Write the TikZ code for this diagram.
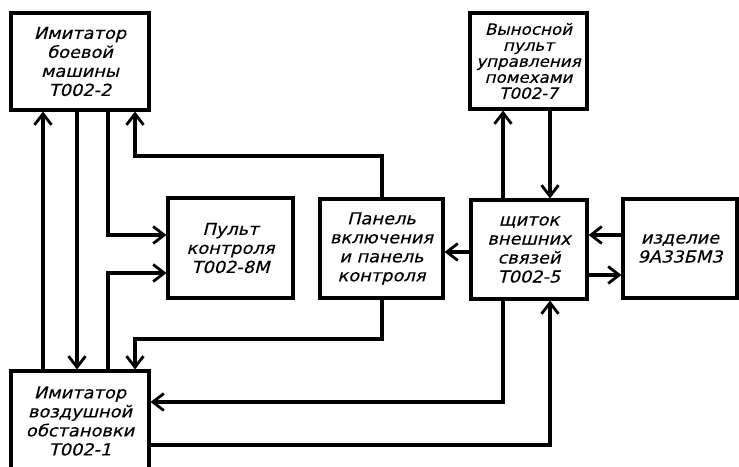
\documentclass[tikz,border=0pt]{standalone}
\usepackage{fontspec}
\newfontfamily\df[FakeStretch=1.08,FakeBold=0.3,FakeSlant=0.25]{DejaVu Sans}
\usetikzlibrary{arrows.meta}
\tikzset{
  blk/.style={draw, line width=3.1pt, rectangle, inner sep=0pt, align=center,
    font=\df\fontsize{16.5}{19}\selectfont},
  con/.style={line width=3.1pt},
  arr/.style={con, -{Straight Barb[length=11pt,width=17pt,line width=2.8pt]}}
}
\begin{document}
\begin{tikzpicture}[x=1pt,y=-1pt]
\useasboundingbox[fill=white] (0,0) rectangle (739,466);
% boxes
\node[blk, minimum width=138pt, minimum height=97pt] (A) at (80,61.5)
  {Имитатор\\боевой\\машины\\Т002-2};
\node[blk, minimum width=138pt, minimum height=100pt] (B) at (80,421)
  {Имитатор\\воздушной\\обстановки\\Т002-1};
\node[blk, minimum width=117pt, minimum height=96pt,
  font=\df\fontsize{15.5}{16}\selectfont] (V) at (528.5,61)
  {Выносной\\пульт\\управления\\помехами\\Т002-7};
\node[blk, minimum width=125pt, minimum height=100pt] (P) at (230.5,248)
  {Пульт\\контроля\\Т002-8М};
\node[blk, minimum width=123pt, minimum height=99pt] (N) at (381.5,248.5)
  {Панель\\включения\\и панель\\контроля};
\node[blk, minimum width=116pt, minimum height=99pt] (S) at (529,249.5)
  {щиток\\внешних\\связей\\Т002-5};
\node[blk, minimum width=114pt, minimum height=99pt] (I) at (680,248.5)
  {изделие\\9А33БМ3};
% helper levels
\coordinate (x43) at (43,0);
\coordinate (x77) at (77,0);
\coordinate (x108) at (108,0);
\coordinate (x135) at (135,0);
\coordinate (x382) at (382,0);
\coordinate (x503) at (503,0);
\coordinate (x550) at (550,0);
\coordinate (y156) at (0,156);
\coordinate (y235) at (0,235);
\coordinate (y273) at (0,273);
\coordinate (y339) at (0,339);
\coordinate (y252) at (0,252);
\coordinate (y275) at (0,275);
\coordinate (y402) at (0,402);
\coordinate (y445) at (0,445);
% connectors
\draw[arr] (B.north -| x43) -- (A.south -| x43);
\draw[arr] (A.south -| x77) -- (B.north -| x77);
\draw[arr] (A.south -| x108) |- (P.west |- y235);
\draw[arr] (B.north -| x108) |- (P.west |- y273);
\draw[arr] (N.north -| x382) |- (x135 |- y156) -- (A.south -| x135);
\draw[arr] (N.south -| x382) |- (x135 |- y339) -- (B.north -| x135);
\draw[arr] (S.west |- y252) -- (N.east |- y252);
\draw[arr] (I.west |- y235) -- (S.east |- y235);
\draw[arr] (S.east |- y275) -- (I.west |- y275);
\draw[arr] (S.north -| x503) -- (V.south -| x503);
\draw[arr] (V.south -| x550) -- (S.north -| x550);
\draw[arr] (S.south -| x503) |- (B.east |- y402);
\draw[arr] (B.east |- y445) -| (S.south -| x550);
\end{tikzpicture}
\end{document}
